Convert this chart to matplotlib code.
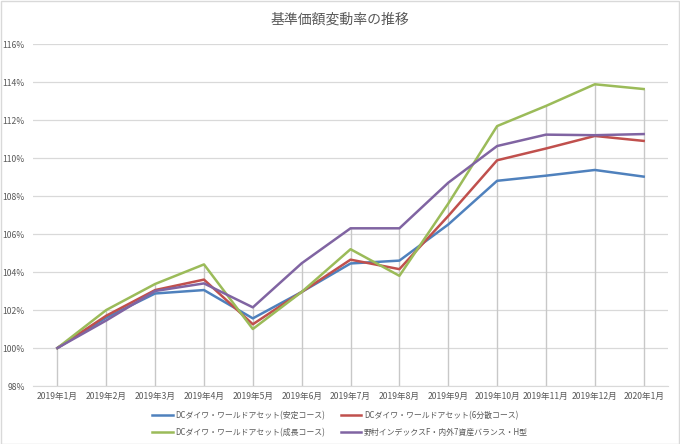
import numpy as np
import matplotlib
matplotlib.use('Agg')
from matplotlib import pyplot as plt
from matplotlib.patches import Rectangle

plt.rcParams['font.family'] = ['Noto Sans CJK JP', 'DejaVu Sans']

# datos (en %)
months = ['2019年1月', '2019年2月', '2019年3月', '2019年4月', '2019年5月', '2019年6月',
          '2019年7月', '2019年8月', '2019年9月', '2019年10月', '2019年11月', '2019年12月', '2020年1月']
antei = [100, 101.6, 102.87, 103.05, 101.56, 102.95, 104.45, 104.6, 106.5, 108.8, 109.07, 109.37, 109.02]
bunsan = [100, 101.7, 103.05, 103.6, 101.25, 102.95, 104.65, 104.15, 106.95, 109.88, 110.5, 111.16, 110.9]
seicho = [100, 102.0, 103.37, 104.4, 101.0, 102.95, 105.2, 103.8, 107.6, 111.68, 112.74, 113.88, 113.63]
nomura = [100, 101.45, 103.0, 103.4, 102.14, 104.46, 106.3, 106.3, 108.7, 110.63, 111.23, 111.2, 111.26]
names = ['DCダイワ・ワールドアセット(安定コース)', 'DCダイワ・ワールドアセット(6分散コース)',
         'DCダイワ・ワールドアセット(成長コース)', '野村インデックスF・内外7資産バランス・H型']
yticks = [98, 100, 102, 104, 106, 108, 110, 112, 114, 116]

colors = ['#4F81BD', '#C0504D', '#9BBB59', '#8064A2']
series = [antei, bunsan, seicho, nomura]
grey = '#595959'

fig = plt.figure(figsize=(6.8, 4.44), dpi=100)
fig.patches.append(Rectangle((0.001, 0.001), 0.998, 0.997, transform=fig.transFigure,
                             fill=False, edgecolor='#d9d9d9', linewidth=1))
ax = fig.add_axes([0.0485, 0.1306, 0.934, 0.7703])

x = np.arange(len(months))
# lineas de caida (drop lines) desde el maximo hasta el eje
top = np.max(np.array(series), axis=0)
ax.vlines(x, 98, top, color='#c8c8c8', linewidth=1, zorder=1)

lines = []
for s, c, n in zip(series, colors, names):
    l, = ax.plot(x, s, color=c, linewidth=1.8, label=n, zorder=3)
    lines.append(l)

ax.set_xlim(-0.5, len(months) - 0.5)
ax.set_ylim(98, 116)
ax.set_yticks(yticks)
ax.set_yticklabels([str(v) + '%' for v in yticks])
ax.set_xticks(x)
ax.set_xticklabels(months)
ax.yaxis.grid(True, color='#d9d9d9', linewidth=0.9)
ax.set_axisbelow(True)
ax.tick_params(axis='both', length=0, labelsize=6.2, colors=grey, pad=4)
ax.tick_params(axis='y', pad=6)
for sp in ['top', 'right', 'left']:
    ax.spines[sp].set_visible(False)
ax.spines['bottom'].set_color('#d9d9d9')

fig.text(0.5, 0.955, '基準価額変動率の推移', ha='center', va='center', fontsize=10, color=grey)

order = [0, 2, 1, 3]
fig.legend([lines[i] for i in order], [names[i] for i in order], ncol=2, loc='center',
           bbox_to_anchor=(0.5, 0.045), frameon=False, fontsize=5.7, labelcolor=grey,
           handlelength=2.6, columnspacing=2.0, handletextpad=0.3, labelspacing=0.95)

fig.savefig('out.png', dpi=100)
